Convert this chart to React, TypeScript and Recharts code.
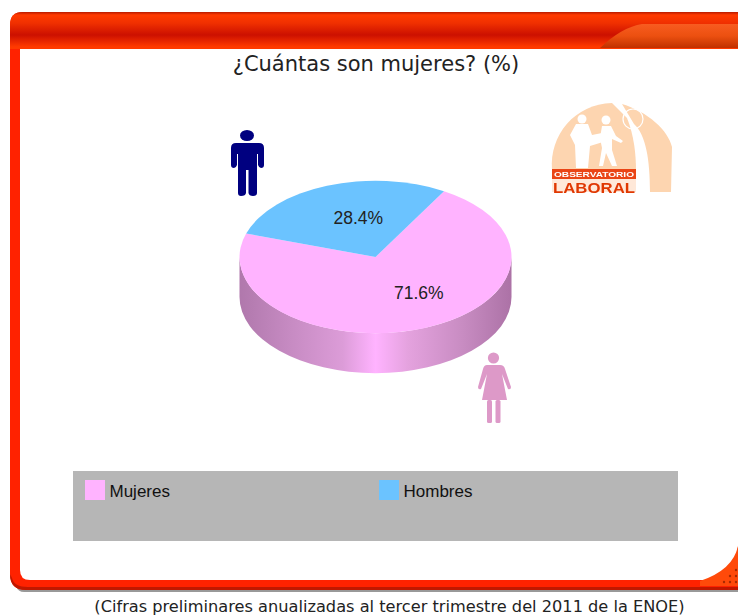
import { PieChart, Pie, Legend } from 'recharts';

const categories = ['Mujeres', 'Hombres'];
const shares = [71.6, 28.4];
const sliceColors = ['#ffb3ff', '#6bc3ff'];
const titleText = '¿Cuántas son mujeres? (%)';
const footnote = '(Cifras preliminares anualizadas al tercer trimestre del 2011 de la ENOE)';

const rows = categories.map((name, i) => ({ name, value: shares[i], fill: sliceColors[i] }));

// the pie is tilted: vertical radius is a fraction of the horizontal one
const TILT = 0.56;
const DEPTH = 40;
const START = 162;

const LABEL_SHIFT: Record<string, [number, number]> = {
  Mujeres: [19, 0],
  Hombres: [7, -3],
};

function pt(cx: number, cy: number, r: number, a: number): [number, number] {
  const rad = (a * Math.PI) / 180;
  return [cx + r * Math.cos(rad), cy - r * TILT * Math.sin(rad)];
}

function Slice3D(props: any) {
  const { cx, cy, outerRadius: r, startAngle, endAngle, fill } = props;
  const ry = r * TILT;
  const [x0, y0] = pt(cx, cy, r, startAngle);
  const [x1, y1] = pt(cx, cy, r, endAngle);
  const large = endAngle - startAngle > 180 ? 1 : 0;
  const lo = Math.max(startAngle, 180);
  const hi = Math.min(endAngle, 360);
  let wall = null;
  if (hi > lo) {
    const [wx0, wy0] = pt(cx, cy, r, lo);
    const [wx1, wy1] = pt(cx, cy, r, hi);
    wall = (
      <path
        d={`M${wx0},${wy0} A${r},${ry} 0 0 0 ${wx1},${wy1} V${wy1 + DEPTH} A${r},${ry} 0 0 1 ${wx0},${wy0 + DEPTH} Z`}
        fill="url(#wallShade)"
      />
    );
  }
  return (
    <g>
      {wall}
      <path d={`M${cx},${cy} L${x0},${y0} A${r},${ry} 0 ${large} 0 ${x1},${y1} Z`} fill={fill} />
    </g>
  );
}

function SliceLabel(props: any) {
  const { cx, cy, outerRadius, midAngle, name, value } = props;
  const [x, y] = pt(cx, cy, outerRadius * 0.5, midAngle);
  const shift = LABEL_SHIFT[name] || [0, 0];
  return (
    <text
      x={x + shift[0]}
      y={y + shift[1]}
      textAnchor="middle"
      dominantBaseline="central"
      fontFamily="Liberation Sans"
      fontSize={17.5}
      fill="#222"
    >
      {value}%
    </text>
  );
}

function GreyLegend({ payload }: any) {
  return (
    <div style={{ width: 605, height: 70, background: '#b6b6b6', position: 'relative' }}>
      {(payload || []).map((p: any, i: number) => (
        <div key={p.value} style={{ position: 'absolute', left: 12 + i * 294, top: 9, display: 'flex', alignItems: 'center' }}>
          <div style={{ width: 20, height: 20, background: p.color, marginRight: 4.5 }} />
          <span style={{ fontFamily: 'Liberation Sans', fontSize: 17, color: '#111', position: 'relative', top: 2 }}>{p.value}</span>
        </div>
      ))}
    </div>
  );
}

function Frame() {
  return (
    <svg width={738} height={616} style={{ position: 'absolute', left: 0, top: 0 }}>
      <defs>
        <linearGradient id="headBand" x1="0" y1="0" x2="0" y2="1">
          <stop offset="0" stopColor="#b81a00" />
          <stop offset="0.08" stopColor="#ff3a00" />
          <stop offset="0.3" stopColor="#f03000" />
          <stop offset="0.62" stopColor="#cc1000" />
          <stop offset="0.94" stopColor="#ff3a00" />
          <stop offset="1" stopColor="#ff3a00" />
        </linearGradient>
        <linearGradient id="headGlow" x1="0" y1="0" x2="0" y2="1">
          <stop offset="0" stopColor="#f85c20" />
          <stop offset="0.5" stopColor="#ec5010" />
          <stop offset="1" stopColor="#c03000" />
        </linearGradient>
        <linearGradient id="wallShade" x1="0" y1="0" x2="1" y2="0">
          <stop offset="0" stopColor="#b078ac" />
          <stop offset="0.2" stopColor="#c88cc4" />
          <stop offset="0.38" stopColor="#dc9cd8" />
          <stop offset="0.5" stopColor="#ffb3ff" />
          <stop offset="0.62" stopColor="#e4a2de" />
          <stop offset="0.82" stopColor="#c88cc2" />
          <stop offset="1" stopColor="#ac72a6" />
        </linearGradient>
        <filter id="soft"><feGaussianBlur stdDeviation="0.7" /></filter>
        <filter id="softer"><feGaussianBlur stdDeviation="0.4" /></filter>
      </defs>

      {/* red frame, runs off the right edge */}
      <path d="M16,586 H738 V592 H24 Q18,592 16,586 Z" fill="#999" filter="url(#soft)" />
      <path d="M10,25 Q10,12 23,12 H738 V590 H26 Q10,590 10,574 Z" fill="#ff2200" />
      <path d="M10,574 Q10,590 26,590 H738 V587 H28 Q14,587 12,578 Z" fill="#c01800" />
      <path d="M20,49 H738 V547 Q734,570 705,580 H30 Q20,580 20,570 Z" fill="#fff" />
      <path d="M10,49 V25 Q10,12 23,12 H738 V49 Z" fill="url(#headBand)" />
      <path d="M600,48 Q622,27 642,24 H738 V48 Z" fill="url(#headGlow)" />
      {/* corner grip */}
      <path d="M700,581 Q733,570 738,546 V586 H700 Z" fill="#ff4a0a" />
      {[[724, 582], [730, 582], [736, 582], [730, 576], [736, 576], [736, 570]].map(([x, y]) => (
        <circle key={`${x}-${y}`} cx={x} cy={y} r={1.2} fill="#a82a00" />
      ))}

      <text x={376} y={71} textAnchor="middle" fontFamily="DejaVu Sans" fontSize={21} fill="#222">{titleText}</text>
      <text x={389.5} y={612} textAnchor="middle" fontFamily="DejaVu Sans" fontSize={16.2} fill="#222">{footnote}</text>

      {/* man */}
      <g fill="#000080" filter="url(#softer)">
        <ellipse cx={247} cy={135.5} rx={7} ry={5.5} />
        <path d="M236,143 H259 Q264,143 264,148 V165 Q264,168 261,168 Q259,168 258,165 V154 H257 V193 Q257,196 253,196 Q249,196 248.5,193 V170 H246 V193 Q245.5,196 241,196 Q238,196 238,193 V154 H237 V165 Q236,168 234,168 Q231,168 231,165 V148 Q231,143 236,143 Z" />
      </g>

      {/* woman */}
      <g fill="#dd99c8" filter="url(#softer)">
        <circle cx={493.5} cy={358} r={5.6} />
        <path d="M487,365 H500 Q504,365 505,369 L511,387 Q511,390 508,389 L502,374 L507,400 H482 L487,374 L481,389 Q478,390 478,387 L483,369 Q484,365 487,365 Z" />
        <rect x={487} y={400} width={5} height={23} rx={1.5} />
        <rect x={495.5} y={400} width={5} height={23} rx={1.5} />
      </g>

      {/* logo */}
      <g filter="url(#softer)">
        <path d="M552,170 C549,135 575,104 612,103 L627,118 C634,135 636,155 636,170 Z" fill="#fdd5b0" />
        <path d="M622,104 C648,112 668,130 672,147 L671,192 H650 C650,160 646,135 634,124 Z" fill="#fdd5b0" />
        <circle cx={633} cy={119} r={10} fill="none" stroke="#fff" strokeWidth={1.2} />
        {/* left figure */}
        <circle cx={582} cy={119} r={4.5} fill="#fff" />
        <path d="M576,124 L588,124 L592,135 L602,133 L603,142 L590,146 L588,168 H576 L575,145 L570,135 Z" fill="#fff" />
        {/* right figure */}
        <circle cx={606} cy={120} r={4.5} fill="#fff" />
        <path d="M602,126 L611,126 L616,136 L623,141 L621,143 L612,139 L612,150 L617,166 H612 L606,153 L603,166 H599 L602,148 L600,138 Z" fill="#fff" />
        <rect x={552} y={169} width={84} height={10} fill="#ea4416" />
        <rect x={552} y={179} width={84} height={13} fill="#ffe8d8" />
        <text x={594} y={176.5} textAnchor="middle" fontFamily="Liberation Sans" fontWeight="bold" fontSize={8} textLength={80} lengthAdjust="spacingAndGlyphs" fill="#fff">OBSERVATORIO</text>
        <text x={594} y={192.5} textAnchor="middle" fontFamily="Liberation Sans" fontWeight="bold" fontSize={15.5} textLength={82} lengthAdjust="spacingAndGlyphs" fill="#e03806">LABORAL</text>
      </g>
    </svg>
  );
}

export default function App() {
  return (
    <div style={{ position: 'absolute', left: 0, top: 0, width: 738, height: 616, background: '#fff', overflow: 'hidden' }}>
      <Frame />
      <div style={{ position: 'absolute', left: 0, top: 0 }}>
        <PieChart width={738} height={616} margin={{ top: 0, right: 0, bottom: 0, left: 0 }}>
          <Pie
            data={rows}
            dataKey="value"
            nameKey="name"
            cx={375.5}
            cy={257}
            outerRadius={136}
            startAngle={START}
            endAngle={START + 360}
            stroke="none"
            shape={Slice3D}
            label={SliceLabel}
            labelLine={false}
            isAnimationActive={false}
          />
          <Legend
            content={GreyLegend}
            itemSorter={null}
            wrapperStyle={{ position: 'absolute', left: 73, top: 471, width: 605, height: 70 }}
          />
        </PieChart>
      </div>
    </div>
  );
}
